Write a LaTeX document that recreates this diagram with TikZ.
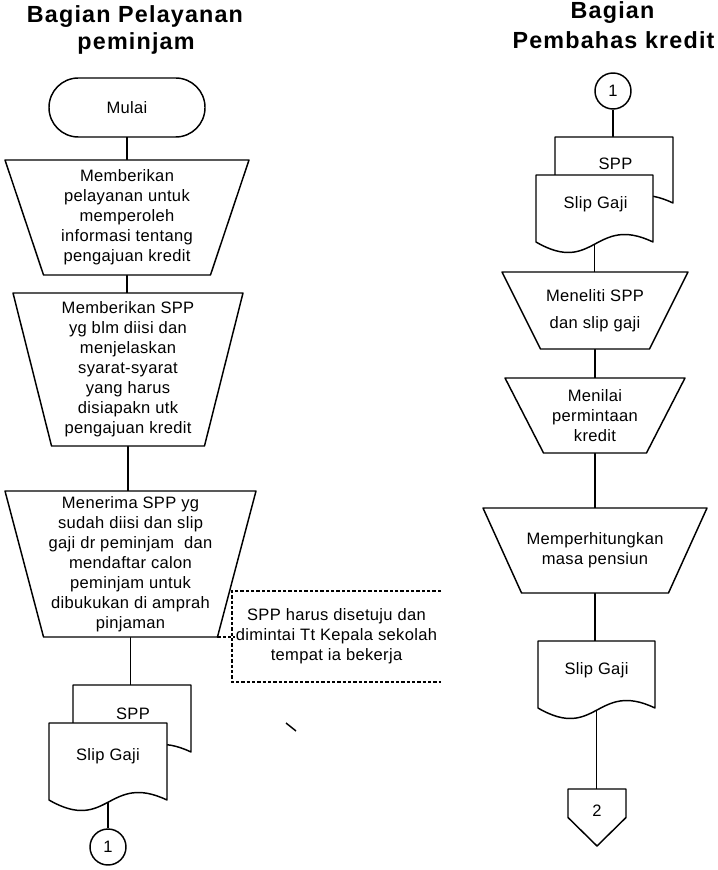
\documentclass[tikz,border=0pt]{standalone}
\usepackage{fontspec}
\setmainfont{Liberation Sans}[LetterSpace=2]
\newfontfamily\headfont{Liberation Sans}[LetterSpace=5]
\pgfdeclarelayer{links}
\pgfdeclarelayer{outlines}
\pgfsetlayers{links,outlines,main}
\newcommand\bodytext{\fontsize{12.4}{15}\selectfont}

\tikzset{
  box/.style={rectangle, inner sep=0pt, outer sep=0pt, align=center, font=\bodytext},
  outline/.style={draw=black, line width=1.1pt, fill=white, line join=round},
  link/.style={draw=black, line width=0.8pt},
  notelink/.style={draw=black, line width=0.8pt, dash pattern=on 2.5pt off 1.5pt},
  heading/.style={font=\headfont\bfseries\fontsize{17.5}{21}\selectfont, anchor=base, inner sep=0pt},
  doctext/.style={font=\bodytext, inner sep=0pt},
  pageconn/.style={circle, draw=black, line width=1.1pt, fill=white, minimum size=27pt, inner sep=0pt, font=\bodytext},
}

% process box: wide top edge, narrow bottom edge
\newcommand\trapoutline[1]{%
  \path[outline] (#1.north west) -- (#1.north east)
    -- ([xshift=-28.9pt]#1.south east) coordinate (#1-br)
    -- ([xshift=28.9pt]#1.south west) coordinate (#1-bl) -- cycle;}
% document: straight top and sides, wavy bottom edge
\newcommand\docoutline[1]{%
  \path[outline] (#1.north west) -- (#1.north east) -- (#1.south east)
    .. controls ([yshift=21pt]#1.south) and ([yshift=-25.5pt]#1.south) .. (#1.south west) -- cycle;}

\begin{document}
\begin{tikzpicture}[x=0.75pt, y=-0.75pt]
\useasboundingbox (0,0) rectangle (717,870);

% ---- column headings
\node[heading] (hL1) at (135,23) {Bagian Pelayanan};
\node[heading] (hL2) at (136,50) {peminjam};
\node[heading] (hR1) at (612.5,19) {Bagian};
\node[heading] (hR2) at (613.5,49) {Pembahas kredit};

% ---- left column: Bagian Pelayanan peminjam
\node[box, minimum width=117pt, minimum height=44.25pt] (mulai) at (127,107.5) {Mulai};
\node[box, minimum width=183pt, minimum height=86.25pt] (t1) at (127,217.5)
  {Memberikan\\pelayanan untuk\\memperoleh\\informasi tentang\\pengajuan kredit};
\node[box, minimum width=172.5pt, minimum height=114.75pt] (t2) at (128,369.5)
  {Memberikan SPP\\yg blm diisi dan\\menjelaskan\\syarat-syarat\\yang harus\\disiapakn utk\\pengajuan kredit};
\node[box, minimum width=188.25pt, minimum height=109.5pt] (t3) at (130.5,564)
  {Menerima SPP yg\\sudah diisi dan slip\\gaji dr peminjam~ dan\\mendaftar calon\\peminjam untuk\\dibukukan di amprah\\pinjaman};
\node[box, minimum width=156.75pt, minimum height=68.25pt] (note) at (336.5,636.5)
  {SPP harus disetuju dan\\dimintai Tt Kepala sekolah\\tempat ia bekerja};
\node[box, minimum width=88.5pt, minimum height=50.25pt] (docLb) at (132,718.5) {};
\node[box, minimum width=88.5pt, minimum height=57.75pt] (docLf) at (108,761.5) {};
\node[doctext] (docLbtxt) at (133,714) {SPP};
\node[doctext] (docLftxt) at (108,756.5) {Slip Gaji};
\node[pageconn] (cL) at (108,847) {1};

% ---- right column: Bagian Pembahas kredit
\node[pageconn] (cR) at (613,91) {1};
\node[box, minimum width=88.5pt, minimum height=49.5pt] (docRb) at (614,170) {};
\node[box, minimum width=87.75pt, minimum height=50.25pt] (docRf) at (594.5,208.5) {};
\node[doctext] (docRbtxt) at (615.5,164) {SPP};
\node[doctext] (docRftxt) at (595.5,204) {Slip Gaji};
\node[box, minimum width=139.5pt, minimum height=57.75pt] (tA) at (595,310.5)
  {Meneliti SPP\\[5pt]dan slip gaji};
\node[box, minimum width=135pt, minimum height=56.25pt] (tB) at (595,415.5)
  {Menilai\\permintaan\\kredit};
\node[box, minimum width=168pt, minimum height=63.75pt] (tC) at (595,550.5)
  {Memperhitungkan\\masa pensiun};
\node[box, minimum width=87.75pt, minimum height=50.25pt] (docR2) at (596.5,674.5) {};
\node[doctext] (docR2txt) at (596.5,670.5) {Slip Gaji};
\node[box, minimum width=43.5pt, minimum height=42.75pt] (off) at (597,817.5) {};
\node[doctext] (offtxt) at (597,811) {2};

% ---- symbol outlines
\begin{pgfonlayer}{outlines}
  \path[outline, rounded corners=22pt] (mulai.north west) rectangle (mulai.south east);
  \trapoutline{t1}
  \trapoutline{t2}
  \trapoutline{t3}
  \trapoutline{tA}
  \trapoutline{tB}
  \trapoutline{tC}
  \docoutline{docLb}
  \docoutline{docLf}
  \docoutline{docRb}
  \docoutline{docRf}
  \docoutline{docR2}
  \path[outline] (off.north west) -- (off.north east) -- (off.east)
    -- (off.south) -- (off.west) -- cycle;
  \draw[notelink] (note.north east) -- (note.north west)
    -- (note.south west) -- (note.south east);
\end{pgfonlayer}

% ---- flow lines
\begin{pgfonlayer}{links}
  \draw[link] (mulai.south) -- (mulai.south |- t1.north);
  \draw[link] (t1.south) -- (t1.south |- t2.north);
  \draw[link] (t2.south) -- (t2.south |- t3.north);
  \draw[link] (t3.south) -- (t3.south |- docLb.north);
  \draw[link] (docLf.south) -- (docLf.south |- cL.north);
  \draw[link] (cR.south) -- (cR.south |- docRb.north);
  \draw[link] (docRf.south) -- (docRf.south |- tA.north);
  \draw[link] (tA.south) -- (tA.south |- tB.north);
  \draw[link] (tB.south) -- (tB.south |- tC.north);
  \draw[link] (tC.south) -- (tC.south |- docR2.north);
  \draw[link] (docR2.south) -- (docR2.south |- off.north);
  \draw[notelink] (t3-br) -- (t3-br -| note.west) -- ++(3,0);
\end{pgfonlayer}

% small stray stroke
\draw[line width=1.1pt] (286,723) -- (296,731);
\end{tikzpicture}
\end{document}
